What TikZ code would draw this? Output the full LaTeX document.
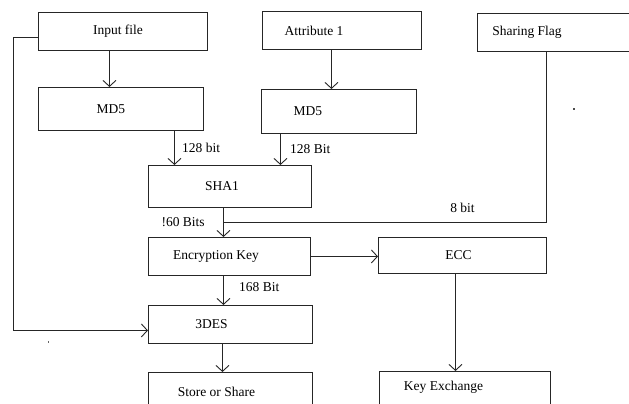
\documentclass[tikz,border=0pt]{standalone}
\usepackage{fontspec}
\setmainfont{Liberation Serif}
\usetikzlibrary{arrows.meta}

\begin{document}
\begin{tikzpicture}[
    x=1pt, y=-1pt,
    >={Straight Barb[length=6pt,width=13pt]},
    every node/.style={font=\fontsize{13.5}{16}\selectfont},
    box/.style={
        draw=black!85,
        line width=0.9pt,
        rectangle,
        anchor=north west,
        inner sep=0pt
    },
    link/.style={draw=black!85, line width=0.9pt}
]

\useasboundingbox (0,0) rectangle (629,404);
\clip (0,0) rectangle (629,404);

% inputs
\node[box, minimum width=169pt, minimum height=38pt,
      label={[xshift=-5pt]center:Input file}]     (inp)  at (38,12)  {};
\node[box, minimum width=159pt, minimum height=38pt,
      label={[xshift=-28pt]center:Attribute 1}]   (att)  at (262,11) {};
\node[box, minimum width=165pt, minimum height=38pt,
      label={[xshift=-33pt]center:Sharing Flag}]  (flag) at (477,13) {};

% hashing
\node[box, minimum width=165pt, minimum height=43pt,
      label={[xshift=-10pt]center:MD5}]           (md5a) at (38,87)  {};
\node[box, minimum width=155pt, minimum height=44pt,
      label={[xshift=-31pt]center:MD5}]           (md5b) at (261,89) {};
\node[box, minimum width=163pt, minimum height=42pt,
      label={[xshift=-8pt]center:SHA1}]           (sha)  at (148,165) {};

% key and ciphers
\node[box, minimum width=162pt, minimum height=38pt,
      label={[xshift=-13.5pt]center:Encryption Key}] (key) at (148,237) {};
\node[box, minimum width=168pt, minimum height=36pt,
      label={[xshift=-4pt]center:ECC}]            (ecc)  at (378,237) {};
\node[box, minimum width=164pt, minimum height=38pt,
      label={[xshift=-19pt]center:3DES}]          (des)  at (148,305) {};
\node[box, minimum width=164pt, minimum height=38pt,
      label={[xshift=-14pt]center:Store or Share}] (store) at (148,372) {};
\node[box, minimum width=171pt, minimum height=36pt,
      label={[xshift=-21.5pt,yshift=2pt]center:Key Exchange}] (kex) at (379,371) {};

% hashing flow
\draw[link,->] ([xshift=-13.5pt]inp.south) coordinate (a) -- (a |- md5a.north);
\draw[link,->] ([xshift=-10.5pt]att.south) coordinate (b) -- (b |- md5b.north);
\draw[link,->] ([xshift=53.5pt]md5a.south) coordinate (c) -- (c |- sha.north)
    node[midway, right=4pt] {128 bit};
\draw[link,->] ([xshift=-58.5pt]md5b.south) coordinate (d) -- (d |- sha.north)
    node[midway, right=6pt] {128 Bit};
\draw[link,->] ([xshift=-6.5pt]sha.south) coordinate (s) -- (s |- key.north)
    coordinate[pos=0.5] (j)
    node[pos=0.5, left=15pt] {!60 Bits};

% flag joins the key line
\draw[link] ([xshift=-13.5pt]flag.south) |- (j)
    node[pos=0.63, above=6pt] {8 bit};

% key to ciphers
\draw[link,->] (key.east) -- (key.east -| ecc.west);
\draw[link,->] ([xshift=-6pt]key.south) coordinate (k) -- (k |- des.north)
    node[pos=0.4, right=12pt] {168 Bit};
\draw[link,->] ([xshift=-7pt]ecc.south) coordinate (e) -- (e |- kex.north);
\draw[link,->] ([xshift=-8pt]des.south) coordinate (f) -- (f |- store.north);

% file goes straight to 3DES
\draw[link,->] ([yshift=-6pt]inp.west) -- ++(-25,0) |- ([yshift=-6pt]des.west);

% stray marks
\fill[black!70] (573,108) rectangle (575,110);
\fill[black!60] (47.5,341) rectangle (48.5,343);

\end{tikzpicture}
\end{document}
